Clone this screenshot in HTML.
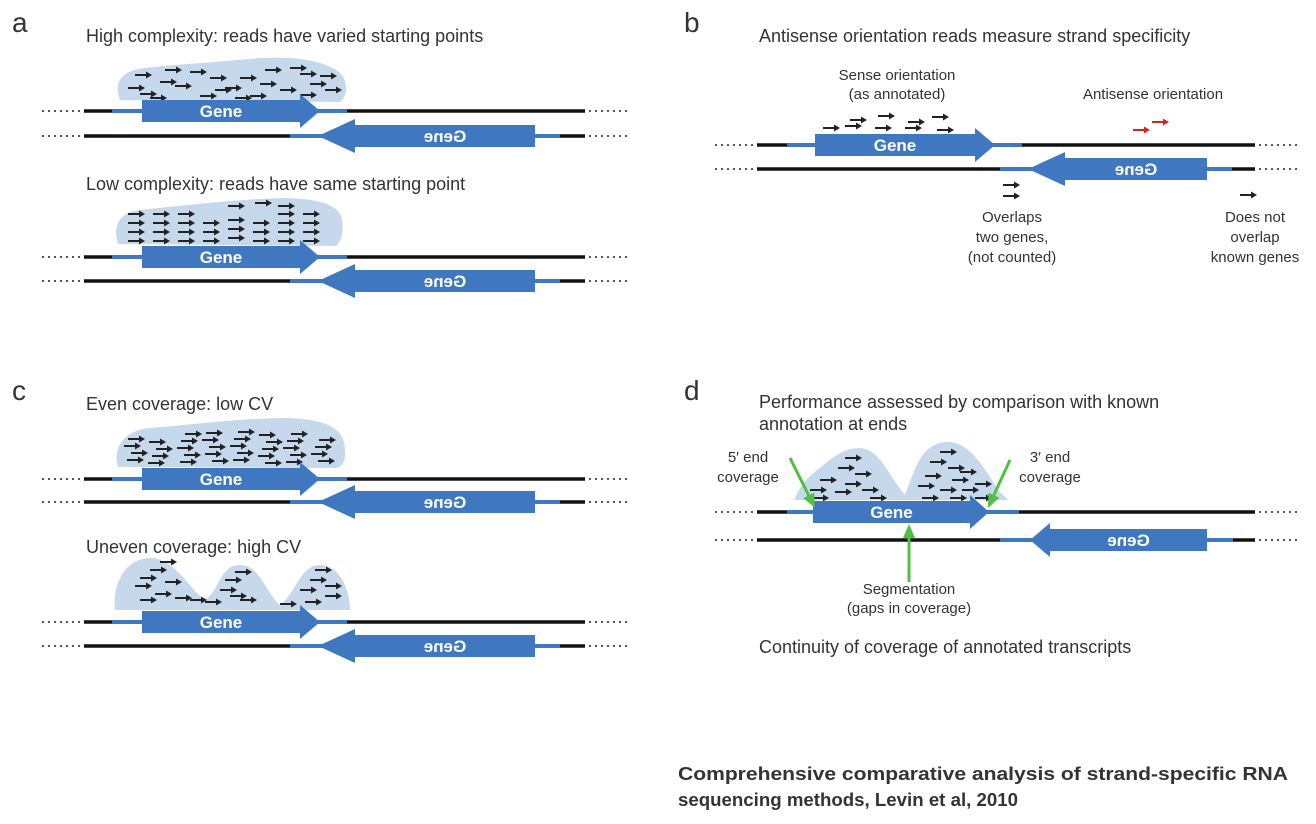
<!DOCTYPE html>
<html><head><meta charset="utf-8"><style>
body{margin:0;background:#fff}
svg{display:block}
text{font-family:"Liberation Sans",Arial,sans-serif;fill:#333}
</style></head><body>
<svg id="fig" width="1316" height="824" viewBox="0 0 1316 824">
<g>
<text x="12" y="32" font-size="28" fill="#222">a</text>
<text x="684" y="32" font-size="28" fill="#222">b</text>
<text x="12" y="400" font-size="28" fill="#222">c</text>
<text x="684" y="400" font-size="28" fill="#222">d</text>
</g>
<g font-size="18">
<text x="86" y="42">High complexity: reads have varied starting points</text>
<text x="86" y="190">Low complexity: reads have same starting point</text>
<text x="759" y="42">Antisense orientation reads measure strand specificity</text>
<text x="86" y="410">Even coverage: low CV</text>
<text x="86" y="553">Uneven coverage: high CV</text>
<text x="759" y="408">Performance assessed by comparison with known</text>
<text x="759" y="430">annotation at ends</text>
<text x="759" y="653">Continuity of coverage of annotated transcripts</text>
</g>
<g font-size="15" text-anchor="middle">
<text x="897" y="80">Sense orientation</text>
<text x="897" y="99">(as annotated)</text>
<text x="1153" y="99">Antisense orientation</text>
<text x="1012" y="222">Overlaps</text>
<text x="1012" y="242">two genes,</text>
<text x="1012" y="262">(not counted)</text>
<text x="1255" y="222">Does not</text>
<text x="1255" y="242">overlap</text>
<text x="1255" y="262">known genes</text>
<text x="748" y="462">5′ end</text>
<text x="748" y="482">coverage</text>
<text x="1050" y="462">3′ end</text>
<text x="1050" y="482">coverage</text>
<text x="909" y="594">Segmentation</text>
<text x="909" y="613">(gaps in coverage)</text>
</g>
<g font-size="18" font-weight="bold">
<text x="678" y="780" fill="#111" textLength="610" lengthAdjust="spacingAndGlyphs">Comprehensive comparative analysis of strand-specific RNA</text>
<text x="678" y="806" fill="#111" textLength="340" lengthAdjust="spacingAndGlyphs">sequencing methods, Levin et al,  2010</text>
</g>
</svg>
<script>
const NS='http://www.w3.org/2000/svg';
const svg=document.getElementById('fig');
function mk(tag,attrs,parent){const e=document.createElementNS(NS,tag);for(const k in attrs)e.setAttribute(k,attrs[k]);(parent||svg).appendChild(e);return e;}
const BLUE='#3f78c1';
function cloud(d,name){const p=mk('path',{d:d,fill:'#c6d8ec'});

}
cloud('M120 100 C112 80 125 70 145 68 C180 64 220 62 260 58 C300 56 330 62 342 75 C350 88 345 98 340 102 Z','read-cloud-high');
cloud('M118 244 C112 225 120 212 140 210 C180 206 230 200 280 198 C320 198 340 205 342 220 C344 235 340 244 335 246 Z','read-cloud-low');
cloud('M118 467 C112 447 125 430 150 428 C190 425 240 418 290 418 C330 420 345 430 345 450 C346 462 342 467 336 468 Z','read-cloud-even');
cloud('M115 610 C112 585 125 558 150 558 C175 558 190 590 205 600 C220 590 220 565 240 565 C260 565 265 592 280 605 C295 595 300 565 320 565 C340 565 350 590 350 610 Z','read-cloud-uneven');
cloud('M795 498 C800 485 810 475 820 468 C835 455 845 448 860 448 C880 450 885 470 905 495 C915 470 920 445 945 442 C970 440 985 470 1000 492 L1008 500 L795 500 Z','read-cloud-segmented');
function read(x,y,color,len){len=len||17;
const g=mk('g',{});


mk('line',{x1:x,y1:y,x2:x+len-5,y2:y,stroke:color||'#222','stroke-width':2},g);
mk('polygon',{points:`${x+len-6},${y-3.5} ${x+len},${y} ${x+len-6},${y+3.5}`,fill:color||'#222'},g);}
[[135,75,160,82,190,72,215,90,240,78,265,70,290,68,310,84],[128,88,150,98,175,86,200,96,225,88,250,96,280,90,300,95,320,76],[140,94,165,70,210,78,235,98,260,84,300,74,325,90]].forEach(r=>{for(let i=0;i<r.length;i+=2)read(r[i],r[i+1]);});
for(let c=0;c<8;c++){for(let r=0;r<4;r++){let y=214+r*9;if(c>=3&&c<=5&&r==0)continue;read(128+c*25,y+(c==4?-3:0));}}
read(228,206);read(255,203);read(278,206);
for(let r=0;r<5;r++){for(let c=0;c<8;c++){let x=125+c*27+((r*7+c*5)%11)-4;let y=432+r*7+((c*3)%4);if(r==0&&(c<2||c>6))continue;read(x,y);}}
[[140,578],[150,570],[135,586],[155,594],[140,600],[165,582],[175,598],[160,562],[225,580],[235,572],[220,590],[240,600],[230,596],[205,602],[190,600],[310,580],[315,570],[300,590],[325,596],[305,602],[280,604],[325,586]].forEach(p=>read(p[0],p[1]));
[[845,458],[838,468],[855,474],[820,480],[845,484],[810,490],[835,492],[862,490],[870,498],[812,498],[940,452],[930,462],[948,468],[925,476],[952,480],[918,486],[940,490],[962,490],[922,498],[950,498],[975,498],[960,472],[975,484]].forEach(p=>read(p[0],p[1]));
[[850,120],[878,116],[908,122],[932,117],[823,128],[845,126],[875,128],[905,128],[937,130]].forEach(p=>read(p[0],p[1]));
read(1133,130,'#e0201b');read(1152,122,'#e0201b');
read(1003,185);read(1003,196);read(1240,195);
function track(x0,x1,y,gs,dir,name){
const g=mk('g',{});


mk('line',{x1:x0-42,y1:y,x2:x0-2,y2:y,stroke:'#555','stroke-width':2,'stroke-dasharray':'2 4'},g);
mk('line',{x1:x1+4,y1:y,x2:x1+44,y2:y,stroke:'#555','stroke-width':2,'stroke-dasharray':'2 4'},g);
mk('line',{x1:x0,y1:y,x2:x1,y2:y,stroke:'#111','stroke-width':3.5},g);
mk('line',{x1:gs[0],y1:y,x2:gs[4],y2:y,stroke:BLUE,'stroke-width':4},g);
let pts;
if(dir>0)pts=`${gs[1]},${y-11} ${gs[2]},${y-11} ${gs[2]},${y-17} ${gs[3]},${y} ${gs[2]},${y+17} ${gs[2]},${y+11} ${gs[1]},${y+11}`;
else pts=`${gs[3]},${y-11} ${gs[2]},${y-11} ${gs[2]},${y-17} ${gs[1]},${y} ${gs[2]},${y+17} ${gs[2]},${y+11} ${gs[3]},${y+11}`;
mk('polygon',{points:pts,fill:BLUE},g);
const cx=dir>0?(gs[1]+gs[2])/2:(gs[2]+gs[3])/2;
const attrs={x:cx,y:y+6,'font-size':17,'font-weight':'bold','text-anchor':'middle',style:'fill:#fff'};
if(dir<0)attrs.transform=`translate(${2*cx},0) scale(-1,1)`;
const t=mk('text',attrs,g);
t.textContent='Gene';}
function pairA(y1,y2,n){
track(84,585,y1,[112,142,300,320,347],1,n+'-forward-strand');
track(84,585,y2,[290,318,355,535,560],-1,n+'-reverse-strand');}
pairA(111,136,'panel-a-high');
pairA(257,281,'panel-a-low');
pairA(479,502,'panel-c-even');
pairA(622,646,'panel-c-uneven');
track(757,1255,145,[787,815,975,995,1022],1,'panel-b-forward-strand');
track(757,1255,169,[1000,1028,1065,1207,1232],-1,'panel-b-reverse-strand');
track(757,1255,512,[787,813,970,989,1019],1,'panel-d-forward-strand');
track(757,1255,540,[1000,1030,1050,1207,1233],-1,'panel-d-reverse-strand');
function green(x1,y1,x2,y2,name){
const g=mk('g',{});


const a=Math.atan2(y2-y1,x2-x1),L=14,W=6;
const bx=x2-L*Math.cos(a),by=y2-L*Math.sin(a);
mk('line',{x1:x1,y1:y1,x2:bx,y2:by,stroke:'#4fc043','stroke-width':3},g);
mk('polygon',{points:`${x2},${y2} ${bx-W*Math.sin(a)},${by+W*Math.cos(a)} ${bx+W*Math.sin(a)},${by-W*Math.cos(a)}`,fill:'#4fc043'},g);}
green(790,458,815,508,'five-prime-pointer');
green(1010,460,988,508,'three-prime-pointer');
green(909,582,909,524,'segmentation-pointer');
</script>
</body></html>
